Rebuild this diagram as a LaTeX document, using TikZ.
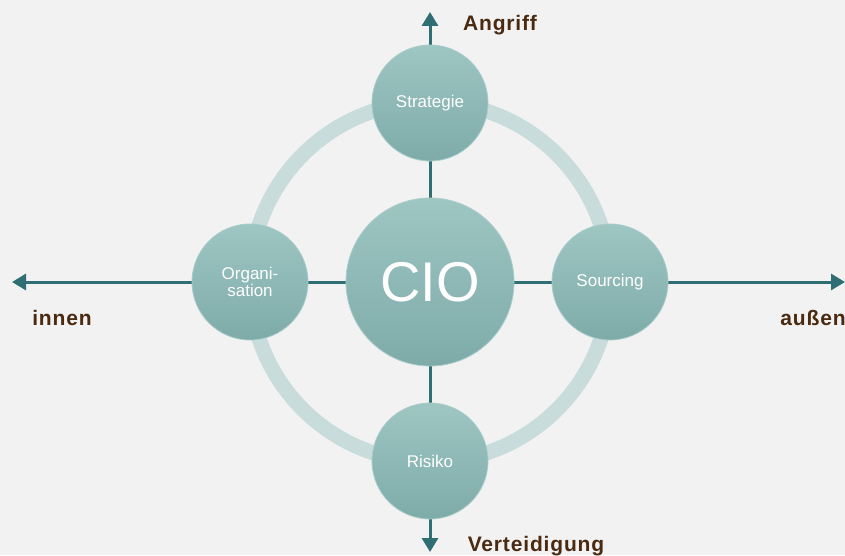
\documentclass[tikz,border=0pt]{standalone}
\usepackage{fontspec}
\setmainfont{Liberation Sans}
\usetikzlibrary{arrows.meta,positioning,calc}
\definecolor{bgray}{HTML}{F2F2F2}
\definecolor{axisteal}{HTML}{2F6E73}
\definecolor{ringteal}{HTML}{C8DCDB}
\definecolor{topteal}{HTML}{9EC6C3}
\definecolor{bottomteal}{HTML}{7EABA8}
\definecolor{rimteal}{HTML}{A9CDCA}
\definecolor{labelbrown}{HTML}{4A2A10}
\tikzstyle{arrow} = [line width=3pt,axisteal,-{Triangle[length=14pt,width=16pt]}]

\begin{document}
\begin{tikzpicture}[x=1pt,y=1pt,
    ballnode/.style={circle,draw=rimteal,line width=0.8pt,top color=topteal,bottom color=bottomteal,
        minimum size=116pt,inner sep=0pt,text=white,font=\fontsize{17}{19}\selectfont,align=center},
    bignode/.style={ballnode,minimum size=168pt,font=\fontsize{56}{60}\selectfont},
    axislabel/.style={text=labelbrown,font=\fontsize{21}{24}\selectfont\bfseries\addfontfeature{LetterSpace=4}},]
    % canvas
    \fill[bgray] (0,0) rectangle (845,555);
    \useasboundingbox (0,0) rectangle (845,555);

    % centre and axis ends
    \coordinate (c) at (430,273);
    \coordinate (west) at (12,273);
    \coordinate (east) at (845,273);
    \coordinate (north) at (430,543);
    \coordinate (south) at (430,3);

    % ring behind everything
    \draw[ringteal,line width=15pt] (c) circle[radius=180];

    % axes
    \draw[arrow] (c) -- (west);
    \draw[arrow] (c) -- (east);
    \draw[arrow] (c) -- (north);
    \draw[arrow] (c) -- (south);

    % circles
    \node[bignode] (cio) at (c) {CIO};
    \node[ballnode] (strat) at (430,452) {Strategie};
    \node[ballnode] (src) at (610,273) {Sourcing};
    \node[ballnode] (org) at (250,273) {Organi-\\[-2pt]sation};
    \node[ballnode] (risk) at (430,94) {Risiko};

    % axis labels
    \node[axislabel] (angriff) at (500,530) {Angriff};
    \node[axislabel] (innen) at (62,237) {innen};
    \node[axislabel] (aussen) at (813,237) {außen};
    \node[axislabel] (vert) at (536,9) {Verteidigung};
\end{tikzpicture}
\end{document}
